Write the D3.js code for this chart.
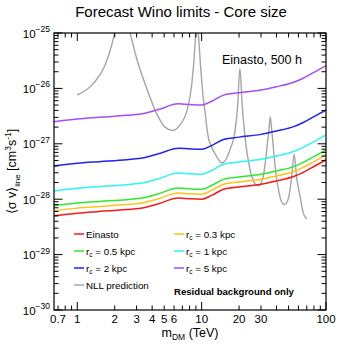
<!DOCTYPE html>
<html><head><meta charset="utf-8">
<script src="https://cdn.jsdelivr.net/npm/d3@7"></script>
<style>body{margin:0;background:#fff}svg{display:block}text{font-family:"Liberation Sans",Arial,sans-serif;fill:#000}</style>
</head><body><svg id="c" width="363" height="346"></svg>
<script>
// ---- data ----
const mass = [0.65, 1, 1.5, 2.5, 3.5, 4.5, 6.5, 8, 10, 12, 15, 20, 30, 40, 55, 65, 80, 100];
const einasto = [0.50e-28, 0.56e-28, 0.60e-28, 0.65e-28, 0.71e-28, 0.83e-28, 1.05e-28, 1.02e-28, 1.00e-28, 1.17e-28, 1.51e-28, 1.66e-28, 1.86e-28, 2.14e-28, 2.57e-28, 3.02e-28, 3.89e-28, 5.13e-28];
const rc03 = [0.62e-28, 0.69e-28, 0.74e-28, 0.80e-28, 0.87e-28, 1.02e-28, 1.29e-28, 1.25e-28, 1.23e-28, 1.44e-28, 1.86e-28, 2.04e-28, 2.29e-28, 2.63e-28, 3.16e-28, 3.71e-28, 4.78e-28, 6.31e-28];
const rc05 = [0.76e-28, 0.85e-28, 0.91e-28, 0.98e-28, 1.07e-28, 1.25e-28, 1.59e-28, 1.54e-28, 1.51e-28, 1.77e-28, 2.28e-28, 2.51e-28, 2.81e-28, 3.23e-28, 3.88e-28, 4.56e-28, 5.87e-28, 7.75e-28];
const rc1 = [1.41e-28, 1.58e-28, 1.69e-28, 1.83e-28, 2.00e-28, 2.34e-28, 2.96e-28, 2.88e-28, 2.82e-28, 3.30e-28, 4.26e-28, 4.68e-28, 5.25e-28, 6.03e-28, 7.25e-28, 8.52e-28, 10.97e-28, 14.5e-28];
const rc2 = [3.97e-28, 4.45e-28, 4.76e-28, 5.16e-28, 5.64e-28, 6.59e-28, 8.34e-28, 8.10e-28, 7.94e-28, 9.29e-28, 12.0e-28, 13.2e-28, 14.8e-28, 17.0e-28, 20.4e-28, 24.0e-28, 30.9e-28, 40.7e-28];
const rc5 = [25.1e-28, 28.1e-28, 30.1e-28, 32.6e-28, 35.6e-28, 41.6e-28, 52.6e-28, 51.1e-28, 50.1e-28, 58.6e-28, 75.7e-28, 83.2e-28, 93.2e-28, 107e-28, 129e-28, 151e-28, 195e-28, 257e-28];
const nllMass = [1.0, 1.35, 1.67, 1.89, 2.0, 2.3, 2.66, 3.0, 3.62, 4.35, 5.07, 5.85, 6.7, 7.58, 8.32, 8.85, 9.15, 9.4, 10.3, 10.6, 11.3, 11.7, 13.2, 14.6, 16.9, 18.6, 19.5, 20.3, 21.2, 22.3, 24.5, 27.1, 28.6, 31.3, 33.4, 34.9, 35.6, 36.6, 39.0, 41.5, 44.3, 46.4, 50, 53, 55.5, 57.9, 61.9, 65.7, 70.3];
const nll = [7.6e-27, 1.23e-26, 2.6e-26, 6.0e-26, 1.0e-25, 3e-25, 1.0e-25, 3.5e-26, 1.0e-26, 3.5e-27, 2.0e-27, 1.74e-27, 2.2e-27, 3.8e-27, 1.15e-26, 6.0e-26, 2.5e-25, 1.0e-25, 6.8e-27, 4.1e-27, 1.32e-27, 1.02e-27, 5.9e-28, 4.5e-28, 7.8e-28, 1.78e-27, 5.0e-27, 2.3e-26, 5.0e-27, 1.35e-27, 3.4e-28, 1.86e-28, 1.74e-28, 2.6e-28, 7.8e-28, 2.0e-27, 3.1e-27, 1.78e-27, 3.9e-28, 1.48e-28, 8.7e-29, 8.0e-29, 1.05e-28, 2.6e-28, 6.5e-28, 2.6e-28, 1.12e-28, 5.6e-29, 4.4e-29];
const seriesNames = ["Einasto", "0.3 kpc", "0.5 kpc", "1 kpc", "2 kpc", "5 kpc"];
const seriesColors = ["#f21b1b", "#ffc21a", "#2ee82e", "#2ef5f5", "#2323f0", "#a64df5"];
const xTickLabels = [0.7, 1, 2, 3, 4, 5, 6, 10, 20, 30, 100];
const yTickExps = [-30, -29, -28, -27, -26, -25];

// ---- layout ----
const L = 54, R = 326, T = 33, B = 310;
const svg = d3.select("#c");
const x = d3.scaleLog().domain([0.65, 100]).range([L, R]);
const y = d3.scaleLog().domain([1e-30, 1e-25]).range([B, T]);

svg.append("defs").append("clipPath").attr("id", "clip")
  .append("rect").attr("x", L).attr("y", T).attr("width", R - L).attr("height", B - T);

const allSeries = [einasto, rc03, rc05, rc1, rc2, rc5];
const line = d3.line().x(d => x(d[0])).y(d => y(d[1])).curve(d3.curveMonotoneX);
const g = svg.append("g").attr("clip-path", "url(#clip)");

g.append("path").datum(nllMass.map((m, i) => [m, nll[i]]))
  .attr("d", line).attr("fill", "none").attr("stroke", "#a5a5a5").attr("stroke-width", 1.4);
allSeries.slice().reverse().forEach((s, ri) => {
  const i = allSeries.length - 1 - ri;
  g.append("path").datum(mass.map((m, j) => [m, s[j]]))
    .attr("d", line).attr("fill", "none").attr("stroke", seriesColors[i]).attr("stroke-width", 1.5);
});

// ---- axes / ticks ----
const ax = svg.append("g").attr("stroke", "#000").attr("stroke-width", 1);
const xMinor = [], xMajor = [1, 10, 100];
[0.1, 1, 10].forEach(d => { for (let k = 2; k <= 9; k++) { const v = k * d; if (v >= 0.65 && v < 100) xMinor.push(v); } });
const yMajor = yTickExps.map(e => Math.pow(10, e)), yMinor = [];
yTickExps.slice(0, -1).forEach(e => { for (let k = 2; k <= 9; k++) yMinor.push(k * Math.pow(10, e)); });

function xt(v, len) {
  ax.append("line").attr("x1", x(v)).attr("x2", x(v)).attr("y1", B).attr("y2", B - len);
  ax.append("line").attr("x1", x(v)).attr("x2", x(v)).attr("y1", T).attr("y2", T + len);
}
function yt(v, len) {
  ax.append("line").attr("y1", y(v)).attr("y2", y(v)).attr("x1", L).attr("x2", L + len);
  ax.append("line").attr("y1", y(v)).attr("y2", y(v)).attr("x1", R).attr("x2", R - len);
}
xMinor.forEach(v => xt(v, 4.5)); xMajor.forEach(v => xt(v, 8));
yMinor.forEach(v => yt(v, 4.5)); yMajor.forEach(v => yt(v, 8.5));
svg.append("rect").attr("x", L).attr("y", T).attr("width", R - L).attr("height", B - T)
  .attr("fill", "none").attr("stroke", "#000").attr("stroke-width", 1.2);

svg.selectAll(".xl").data(xTickLabels).enter().append("text")
  .attr("x", d => x(d)).attr("y", 323).attr("text-anchor", "middle").attr("font-size", 11.5).text(d => d);

yTickExps.forEach(e => {
  const t = svg.append("text").attr("x", 50).attr("y", y(Math.pow(10, e)) + 4.5).attr("text-anchor", "end").attr("font-size", 11.5);
  t.append("tspan").text("10");
  t.append("tspan").attr("dy", -5.5).attr("font-size", 8.5).text("\u2212" + Math.abs(e));
});

// ---- titles ----
svg.append("text").attr("x", 181).attr("y", 17).attr("text-anchor", "middle").attr("font-size", 15).text("Forecast Wino limits - Core size");
svg.append("text").attr("x", 222).attr("y", 64).attr("font-size", 12.5).text("Einasto, 500 h");

const xt1 = svg.append("text").attr("x", 190).attr("y", 337).attr("text-anchor", "middle").attr("font-size", 12.5);
xt1.append("tspan").text("m");
xt1.append("tspan").attr("dy", 3).attr("font-size", 8.5).text("DM");
xt1.append("tspan").attr("dy", -3).text(" (TeV)");

const yt1 = svg.append("text").attr("transform", "translate(16,171.5) rotate(-90)").attr("text-anchor", "middle").attr("font-size", 12.5);
yt1.append("tspan").text("\u27E8\u03C3 v\u27E9");
yt1.append("tspan").attr("dy", 3.5).attr("font-size", 8).text("line");
yt1.append("tspan").attr("dy", -3.5).text(" [cm");
yt1.append("tspan").attr("dy", -5).attr("font-size", 8.5).text("3");
yt1.append("tspan").attr("dy", 5).text("s");
yt1.append("tspan").attr("dy", -5).attr("font-size", 8.5).text("-1");
yt1.append("tspan").attr("dy", 5).text("]");

// ---- legend ----
const legItems = [
  {col: 0, row: 0, i: 0}, {col: 1, row: 0, i: 1},
  {col: 0, row: 1, i: 2}, {col: 1, row: 1, i: 3},
  {col: 0, row: 2, i: 4}, {col: 1, row: 2, i: 5}
];
const colX = [74, 174], rowY = [234, 251, 268, 285];
legItems.forEach(it => {
  const lx = colX[it.col], ly = rowY[it.row];
  svg.append("line").attr("x1", lx).attr("x2", lx + 10).attr("y1", ly).attr("y2", ly)
    .attr("stroke", seriesColors[it.i]).attr("stroke-width", 1.5);
  const t = svg.append("text").attr("x", lx + 12).attr("y", ly + 3.5).attr("font-size", 9.8);
  if (it.i === 0) t.text(seriesNames[0]);
  else {
    t.append("tspan").text("r");
    t.append("tspan").attr("dy", 2.5).attr("font-size", 6.5).text("c");
    t.append("tspan").attr("dy", -2.5).text(" = " + seriesNames[it.i]);
  }
});
svg.append("line").attr("x1", 74).attr("x2", 84).attr("y1", 285).attr("y2", 285).attr("stroke", "#a5a5a5").attr("stroke-width", 1.5);
svg.append("text").attr("x", 86).attr("y", 288.5).attr("font-size", 9.8).text("NLL prediction");
svg.append("text").attr("x", 174).attr("y", 295).attr("font-size", 9.6).attr("font-weight", "bold").text("Residual background only");
</script></body></html>
